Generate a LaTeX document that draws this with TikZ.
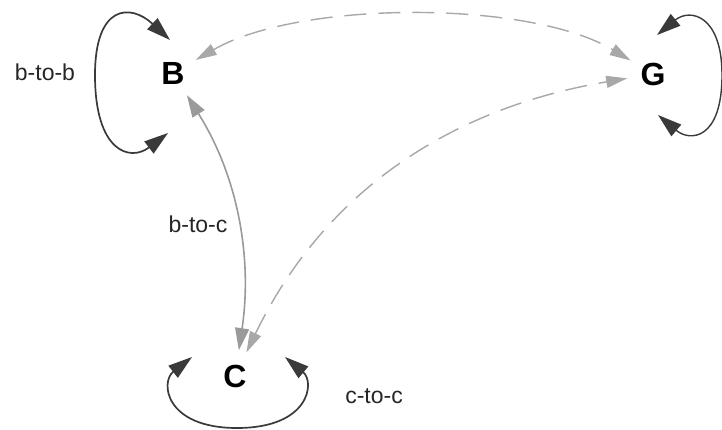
\documentclass[tikz,border=0pt]{standalone}
\usepackage{fontspec}
\setmainfont{Liberation Sans}
\usetikzlibrary{arrows.meta}
\definecolor{loopc}{HTML}{3A3A3A}
\definecolor{solidc}{HTML}{9A9A9A}
\definecolor{dashc}{HTML}{A8A8A8}
\begin{document}
\begin{tikzpicture}[x=1pt,y=-1pt,
  letter/.style={circle,minimum size=52pt,inner sep=0pt,font=\fontsize{32}{36}\selectfont\bfseries},
  lab/.style={inner sep=0pt,font=\fontsize{23}{27}\selectfont,text=black!85},
  loopedge/.style={draw=loopc,line width=1.7pt,{Triangle[length=24pt,width=15pt]}-{Triangle[length=24pt,width=15pt]}},
  solidedge/.style={draw=solidc,line width=1.6pt,{Triangle[length=22pt,width=14pt]}-{Triangle[length=22pt,width=14pt]}},
  dashedge/.style={draw=dashc,line width=1.4pt,dash pattern=on 22pt off 12pt,{Triangle[length=21pt,width=12pt]}-{Triangle[length=21pt,width=12pt]}}]
\fill[white] (0,0) rectangle (722,430);
\useasboundingbox (0,0) rectangle (722,430);
\clip (0,0) rectangle (722,430);

\node[letter] (B) at (173,73) {B};
\node[letter] (G) at (653,74) {G};
\node[letter] (C) at (235,376) {C};

\node[lab] (lbb) at (45,72) {b-to-b};
\node[lab] (lbc) at (198,224) {b-to-c};
\node[lab] (lcc) at (374,396) {c-to-c};

% self loops
\draw[loopedge] ([shift={(-3,-33)}]B.center) .. controls (130,3) and (95,5) .. (95,75)
   .. controls (95,152) and (130,162) .. ([shift={(-5,60)}]B.center);
\draw[loopedge,line width=1.4pt] ([shift={(4,-39)}]G.center) .. controls (690,8) and (722,15) .. (722,75)
   .. controls (722,140) and (690,142) .. ([shift={(5,41)}]G.center);
\draw[loopedge] ([shift={(-43,-19)}]C.center) .. controls (160,382) and (165,428) .. (237,428)
   .. controls (310,428) and (315,382) .. ([shift={(50,-19)}]C.center);

% edges between nodes
\draw[solidedge] (B) .. controls (240,180) and (252,262) .. (C);
\draw[dashedge] (B) .. controls (300,0) and (530,0) .. (G);
\draw[dashedge] (C) .. controls (320,200) and (440,110) .. (G);
\end{tikzpicture}
\end{document}
